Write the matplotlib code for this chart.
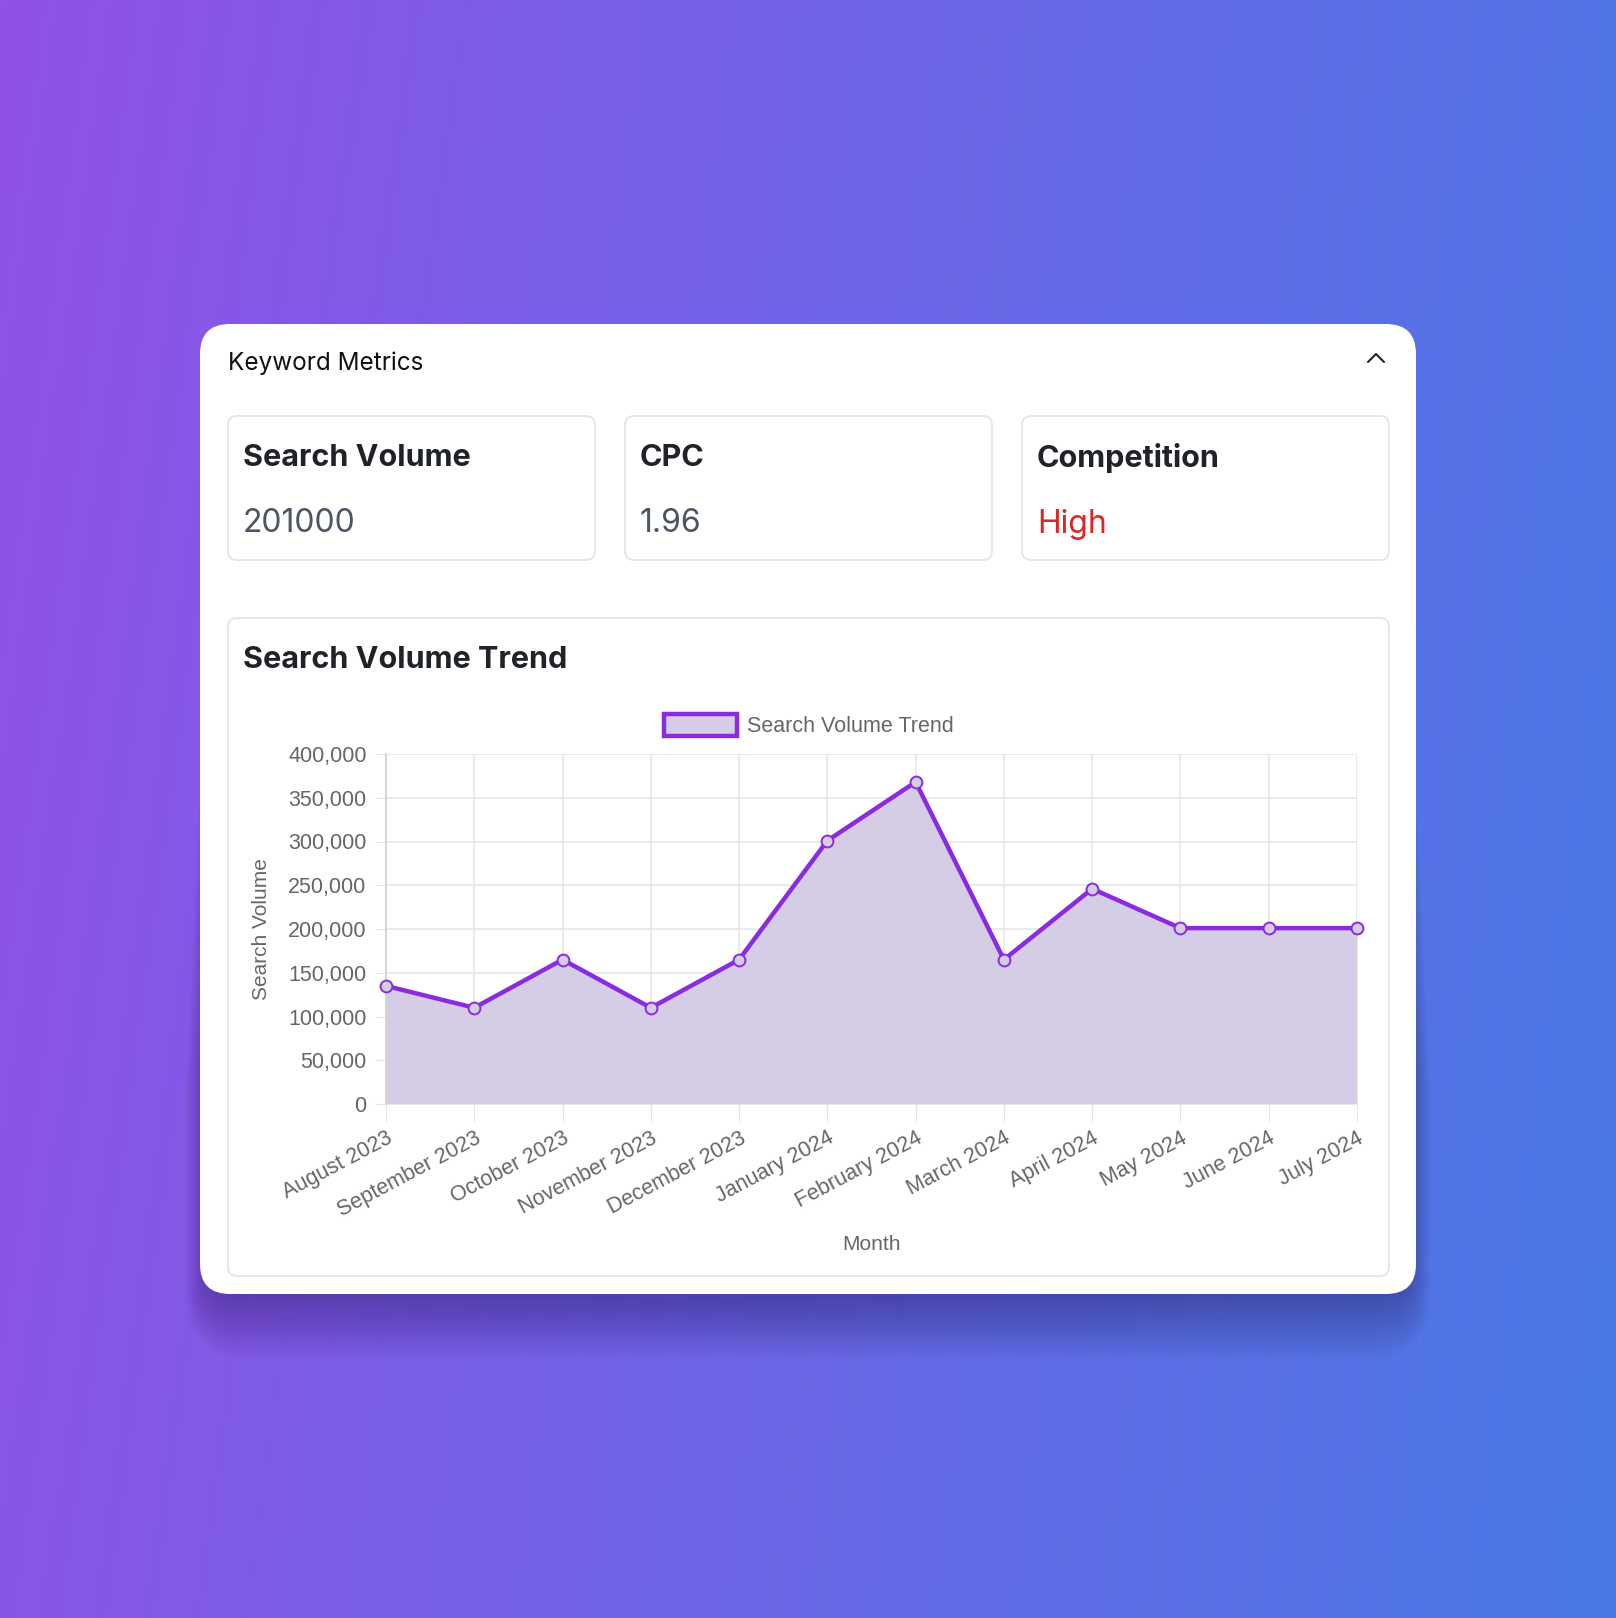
import matplotlib
matplotlib.use("Agg")
import matplotlib.pyplot as plt
from matplotlib.patches import FancyBboxPatch, Rectangle
from matplotlib.colors import to_rgb
from matplotlib.ticker import FuncFormatter
import matplotlib.transforms as mtransforms
import numpy as np

# --- data ---
months = ["August 2023", "September 2023", "October 2023", "November 2023",
          "December 2023", "January 2024", "February 2024", "March 2024",
          "April 2024", "May 2024", "June 2024", "July 2024"]
search_volume = [135000, 110000, 165000, 110000, 165000, 301000,
                 368000, 165000, 246000, 201000, 201000, 201000]
y_ticks = [0, 50000, 100000, 150000, 200000, 250000, 300000, 350000, 400000]
metric_names = ["Search Volume", "CPC", "Competition"]
metric_values = ["201000", "1.96", "High"]
metric_colors = ["#4b5563", "#4b5563", "#dc2626"]

LINE = "#8a2be2"
FILL = "#d5cce6"
GRID = "#e4e4e4"
TXT = "#666666"

W, H = 1616, 1618
fig = plt.figure(figsize=(W / 100, H / 100), dpi=100)

# background layer in pixel coords (y down)
bg = fig.add_axes([0, 0, 1, 1])
bg.set_xlim(0, W)
bg.set_ylim(H, 0)
bg.axis("off")

# purple -> blue gradient
c1 = np.array(to_rgb("#9152e7"))
c2 = np.array(to_rgb("#4979e5"))
xx, yy = np.meshgrid(np.linspace(0, 1, 400), np.linspace(0, 1, 400))
t = np.clip(0.88 * xx + 0.12 * yy, 0, 1)
grad = c1[None, None, :] * (1 - t[..., None]) + c2[None, None, :] * t[..., None]
bg.imshow(grad, extent=(0, W, H, 0), aspect="auto", zorder=0)


def rbox(x, y, w, h, r, **kw):
    p = FancyBboxPatch((x, y), w, h, boxstyle=f"round,pad=0,rounding_size={r}", **kw)
    bg.add_patch(p)
    return p


# soft card shadow, mostly below the card
for i in range(18):
    g = i * 4
    top = 324 + 300 + g * 6
    bottom = 1294 + 4 + g * 0.9
    rbox(200 + 6 - g * 0.3, top, 1216 - 12 + g * 0.6, bottom - top, 30 + g * 0.5,
         facecolor="#1c1245", edgecolor="none", alpha=0.021, zorder=1)

# main card
rbox(200, 324, 1216, 970, 30, facecolor="white", edgecolor="none", zorder=2)
bg.text(228, 363, "Keyword Metrics", fontsize=17.5, family="Inter", color="#111111",
        va="center", ha="left", zorder=3)
bg.plot([1368, 1376, 1384], [362, 354, 362], color="#222222", lw=1.5,
        solid_capstyle="round", zorder=3)

# metric boxes
box_x = [228, 625, 1022]
for bx, name, val, col in zip(box_x, metric_names, metric_values, metric_colors):
    rbox(bx, 416, 367, 144, 9, facecolor="white", edgecolor="#e3e5e8", lw=1.3, zorder=3)
    bg.text(bx + 15, 458, name, fontsize=22, family="Inter", weight="bold",
            color="#1f2328", va="center", ha="left", zorder=4)
    bg.text(bx + 15, 524, val, fontsize=23, family="Inter", color=col,
            va="center", ha="left", zorder=4)

# chart card
rbox(228, 618, 1161, 658, 9, facecolor="white", edgecolor="#e3e5e8", lw=1.3, zorder=3)
bg.text(243, 660, "Search Volume Trend", fontsize=22, family="Inter", weight="bold",
        color="#1f2328", va="center", ha="left", zorder=4)

# legend
bg.add_patch(Rectangle((664, 714), 73, 22, facecolor=FILL, edgecolor=LINE, lw=3.2, zorder=4))
bg.text(747, 726, "Search Volume Trend", fontsize=15.5, family="Liberation Sans",
        color=TXT, va="center", ha="left", zorder=4)

# --- line chart ---
x0, x1, y0, y1 = 386, 1357, 754, 1104
ax = fig.add_axes([x0 / W, 1 - y1 / H, (x1 - x0) / W, (y1 - y0) / H])
ax.set_zorder(5)
ax.patch.set_alpha(0)
xs = np.arange(len(months))
ax.fill_between(xs, search_volume, 0, color=FILL, lw=0, zorder=2)
ax.plot(xs, search_volume, color=LINE, lw=3.2, marker="o", ms=8.5,
        mfc=FILL, mec=LINE, mew=1.4, zorder=3, clip_on=False)
ax.set_xlim(0, len(months) - 1)
ax.set_ylim(0, 400000)
ax.set_xticks(xs)
ax.set_xticklabels(months, rotation=28, ha="right", rotation_mode="anchor",
                   family="Liberation Sans", fontsize=15.5, color=TXT)
shift = mtransforms.ScaledTranslation(-4 / 100, 0, fig.dpi_scale_trans)
for lab in ax.get_xticklabels():
    lab.set_transform(lab.get_transform() + shift)
ax.set_yticks(y_ticks)
ax.yaxis.set_major_formatter(FuncFormatter(lambda v, p: f"{int(v):,}"))
for lab in ax.get_yticklabels():
    lab.set_family("Liberation Sans")
ax.tick_params(axis="y", labelsize=15.5, labelcolor=TXT, length=8, color=GRID, pad=6)
ax.tick_params(axis="x", length=12, color=GRID, pad=5)
ax.grid(True, color=GRID, lw=1.1, zorder=0)
ax.set_axisbelow(True)
for s in ["top", "right", "bottom"]:
    ax.spines[s].set_visible(False)
ax.spines["left"].set_color("#d0d0d0")
ax.spines["left"].set_linewidth(1.2)
ax.set_ylabel("Search Volume", family="Liberation Sans", fontsize=15, color=TXT, labelpad=12)
ax.set_xlabel("Month", family="Liberation Sans", fontsize=15, color=TXT, labelpad=10)

fig.savefig("out.png", dpi=100)
